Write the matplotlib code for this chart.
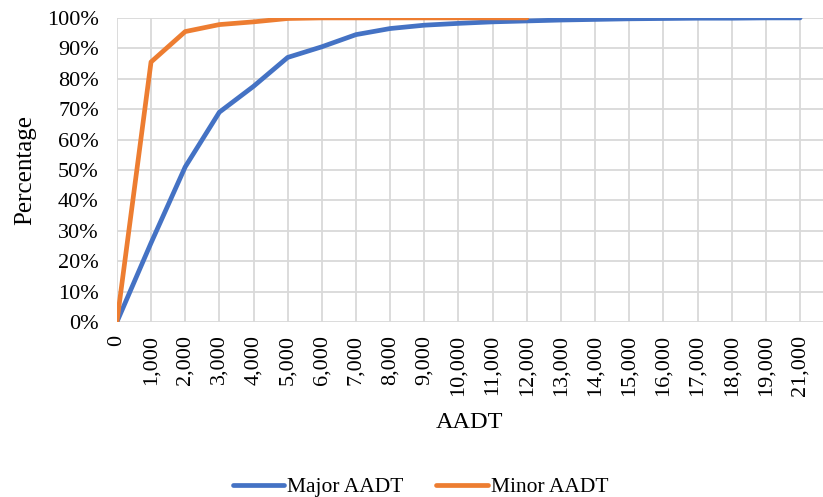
import matplotlib.pyplot as plt
from matplotlib.ticker import PercentFormatter

plt.rcParams['font.family'] = ['Liberation Serif', 'DejaVu Serif']

# category labels (note: no 20,000 in the source)
aadt_labels = ['0', '1,000', '2,000', '3,000', '4,000', '5,000', '6,000', '7,000',
               '8,000', '9,000', '10,000', '11,000', '12,000', '13,000', '14,000',
               '15,000', '16,000', '17,000', '18,000', '19,000', '21,000']

major_pct = [0, 26, 51, 69, 77.5, 87, 90.5, 94.5, 96.5, 97.6, 98.2, 98.7, 99.0,
             99.3, 99.5, 99.7, 99.8, 99.9, 99.9, 100, 100]
minor_pct = [0, 85.5, 95.5, 97.8, 98.7, 99.8, 100, 100, 100, 100, 100, 100, 100]

fig = plt.figure(figsize=(8.23, 4.97), dpi=100)
ax = fig.add_axes([0.142, 0.352, 0.858, 0.612])

x_major = list(range(len(major_pct)))
x_minor = list(range(len(minor_pct)))
ax.plot(x_major, major_pct, color='#4472C4', lw=3.4, label='Major AADT',
        solid_capstyle='round', zorder=3)
ax.plot(x_minor, minor_pct, color='#ED7D31', lw=3.4, label='Minor AADT',
        solid_capstyle='round', zorder=4)

ax.set_xlim(0, 20.67)
ax.set_ylim(0, 100)
ax.set_yticks(range(0, 101, 10))
ax.yaxis.set_major_formatter(PercentFormatter(decimals=0))
ax.set_xticks(x_major)
ax.set_xticklabels(aadt_labels, rotation=90)

ax.grid(True, color='#d9d9d9', lw=1.3)
ax.set_axisbelow(True)
for s in ax.spines.values():
    s.set_visible(False)
ax.tick_params(length=0, labelsize=16, colors='black')
ax.tick_params(axis='y', pad=13)
ax.tick_params(axis='x', pad=9)

ax.set_xlabel('AADT', fontsize=17.5)
ax.xaxis.set_label_coords(0.5, -0.295)
ax.set_ylabel('Percentage', fontsize=18)
ax.yaxis.set_label_coords(-0.114, 0.5)

fig.legend(loc='center', bbox_to_anchor=(0.511, 0.02), ncol=2, frameon=False,
           fontsize=15.5, handlelength=2.4, handletextpad=0.15, columnspacing=1.5)

fig.savefig('out.png', dpi=100)
